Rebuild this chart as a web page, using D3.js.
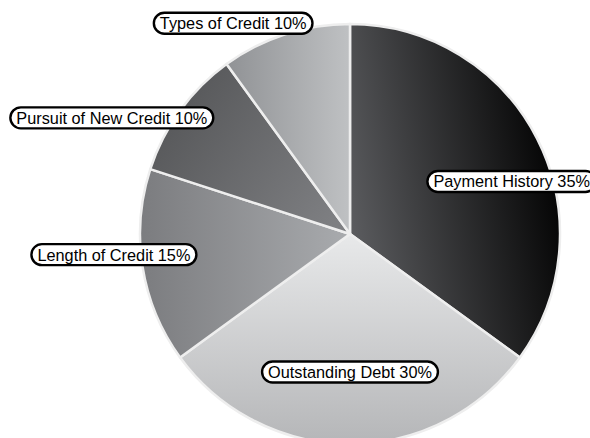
<!DOCTYPE html>
<html>
<head>
<meta charset="utf-8">
<script src="https://cdn.jsdelivr.net/npm/d3@7"></script>
<style>
  html, body { margin: 0; padding: 0; background: #fff; }
  svg { display: block; }
</style>
</head>
<body>
<div id="chart"></div>
<script>
    "use strict";

    // chart data
    const categories = ["Payment History", "Outstanding Debt", "Length of Credit", "Pursuit of New Credit", "Types of Credit"];
    const shares = [35, 30, 15, 10, 10];

    // look of each slice: gradient stops and direction
    const sliceFills = [
        { from: "#5c5d60", to: "#000000", dir: [0, 0.65, 1, 0.35] },
        { from: "#e8e9ea", to: "#b5b6b8", dir: [0, 0, 0, 1] },
        { from: "#7b7c7f", to: "#a9abae", dir: [0, 0.5, 1, 0.5] },
        { from: "#535456", to: "#7e7f82", dir: [0, 0.2, 1, 0.8] },
        { from: "#909295", to: "#bfc1c3", dir: [0, 0.5, 1, 0.5] }
    ];
    // where each label sits: angle (deg from top, clockwise) and distance from centre
    const labelSpots = [
        { angle: 72, dist: 170 },
        { angle: 180, dist: 138 },
        { angle: 265, dist: 237 },
        { angle: 296, dist: 265 },
        { angle: 331, dist: 241 }
    ];

    const width = 590, height = 438;
    const cx = 350, cy = 234, radius = 210;

    const svg = d3.select("#chart").append("svg")
        .attr("width", width)
        .attr("height", height);

    const defs = svg.append("defs");
    sliceFills.forEach((f, i) => {
        const g = defs.append("linearGradient")
            .attr("id", "slice" + i)
            .attr("x1", f.dir[0]).attr("y1", f.dir[1])
            .attr("x2", f.dir[2]).attr("y2", f.dir[3]);
        g.append("stop").attr("offset", 0).attr("stop-color", f.from);
        g.append("stop").attr("offset", 1).attr("stop-color", f.to);
    });

    const pie = d3.pie().sort(null).value(d => d)(shares);
    const arc = d3.arc().innerRadius(0).outerRadius(radius);

    const g = svg.append("g").attr("transform", `translate(${cx},${cy})`);

    g.selectAll("path.slice")
        .data(pie)
        .enter().append("path")
        .attr("class", "slice")
        .attr("d", arc)
        .attr("fill", (d, i) => `url(#slice${i})`)
        .attr("stroke", "#eeeeee")
        .attr("stroke-width", 2.5)
        .attr("stroke-linejoin", "round");

    // labels
    const labels = g.selectAll("g.label")
        .data(pie)
        .enter().append("g")
        .attr("class", "label")
        .attr("transform", (d, i) => {
            const a = labelSpots[i].angle * Math.PI / 180;
            const r = labelSpots[i].dist;
            return `translate(${r * Math.sin(a)},${-r * Math.cos(a)})`;
        });

    labels.append("rect")
        .attr("fill", "#fff")
        .attr("stroke", "#000")
        .attr("stroke-width", 2.4);

    labels.append("text")
        .attr("text-anchor", "middle")
        .attr("dy", "0.36em")
        .style("font-family", "'Liberation Sans', Arial, Helvetica, sans-serif")
        .style("font-size", "16.3px")
        .attr("fill", "#000")
        .text((d, i) => `${categories[i]} ${shares[i]}%`);

    labels.each(function () {
        const grp = d3.select(this);
        const w = grp.select("text").node().getComputedTextLength() + 12;
        const h = 21;
        grp.select("rect")
            .attr("x", -w / 2)
            .attr("y", -h / 2)
            .attr("width", w)
            .attr("height", h)
            .attr("rx", h / 2)
            .attr("ry", h / 2);
    });
</script>
</body>
</html>
